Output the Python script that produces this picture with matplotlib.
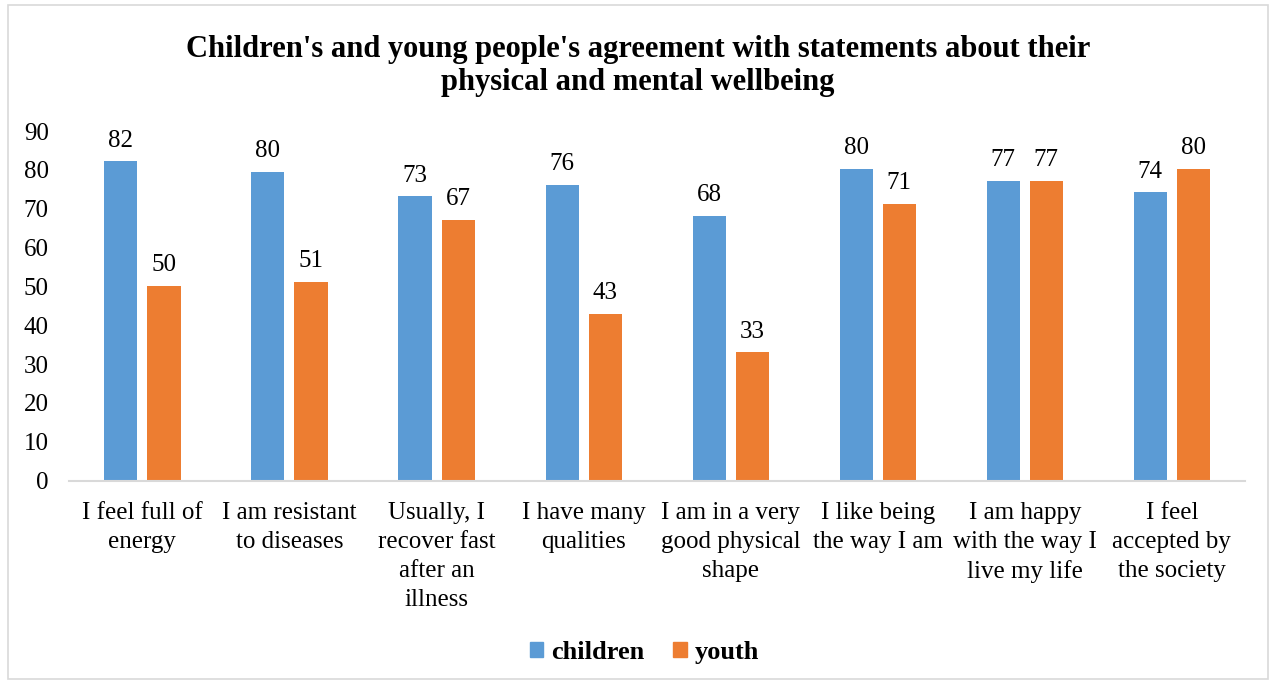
import matplotlib.pyplot as plt
import matplotlib.patches as mpatches
import numpy as np

# data
categories = [
    "I feel full of\nenergy",
    "I am resistant\nto diseases",
    "Usually, I\nrecover fast\nafter an\nillness",
    "I have many\nqualities",
    "I am in a very\ngood physical\nshape",
    "I like being\nthe way I am",
    "I am happy\nwith the way I\nlive my life",
    "I feel\naccepted by\nthe society",
]
children = [82.2, 79.5, 73.2, 76.1, 68.2, 80.2, 77.2, 74.2]
youth = [50.1, 51.1, 67.1, 43.0, 33.0, 71.3, 77.2, 80.2]
children_labels = ["82", "80", "73", "76", "68", "80", "77", "74"]
youth_labels = ["50", "51", "67", "43", "33", "71", "77", "80"]
yticks = [0, 10, 20, 30, 40, 50, 60, 70, 80, 90]

BLUE = "#5B9BD5"
ORANGE = "#ED7D31"
FS = 18

plt.rcParams['font.family'] = ['Liberation Serif', 'DejaVu Serif']

fig = plt.figure(figsize=(12.76, 6.86), dpi=100)
ax = fig.add_axes([0.054, 0.2993, 0.922, 0.5097])

x = np.arange(len(categories))
w = 0.225
off = w / 2 + 0.034
b1 = ax.bar(x - off, children, w, color=BLUE, label="children")
b2 = ax.bar(x + off, youth, w, color=ORANGE, label="youth")

for rect, lab in zip(b1, children_labels):
    ax.annotate(lab, (rect.get_x() + rect.get_width() / 2, rect.get_height()),
                xytext=(0, 7), textcoords="offset points",
                ha="center", va="bottom", fontsize=FS)
for rect, lab in zip(b2, youth_labels):
    ax.annotate(lab, (rect.get_x() + rect.get_width() / 2, rect.get_height()),
                xytext=(0, 7), textcoords="offset points",
                ha="center", va="bottom", fontsize=FS)

ax.set_xlim(-0.5, len(categories) - 0.5)
ax.set_ylim(0, 90)
ax.set_yticks(yticks)
ax.set_xticks(x)
ax.set_xticklabels(categories, fontsize=FS, linespacing=1.42, va="top")
ax.tick_params(axis="both", length=0, labelsize=FS)
ax.tick_params(axis="x", pad=15)
ax.tick_params(axis="y", pad=14.5)
for s in ["top", "right", "left"]:
    ax.spines[s].set_visible(False)
ax.spines["bottom"].set_color("#d9d9d9")
ax.spines["bottom"].set_linewidth(1.5)

fig.text(0.5, 0.949, "Children's and young people's agreement with statements about their\nphysical and mental wellbeing",
         ha="center", va="top", fontsize=22, fontweight="bold", linespacing=1.17)

handles = [mpatches.Patch(color=BLUE, label="children"),
           mpatches.Patch(color=ORANGE, label="youth")]
fig.legend(handles=handles, loc="center", bbox_to_anchor=(0.505, 0.049), ncol=2,
           frameon=False, prop={'weight': 'bold', 'size': 19},
           handlelength=0.5, handleheight=0.5, handletextpad=0.3, columnspacing=1.1)

# light border round the whole chart
fig.patches.append(mpatches.Rectangle((0.006, 0.01), 0.988, 0.982, transform=fig.transFigure,
                                      fill=False, edgecolor="#d9d9d9", linewidth=1.2))

plt.savefig("out.png", dpi=100)
